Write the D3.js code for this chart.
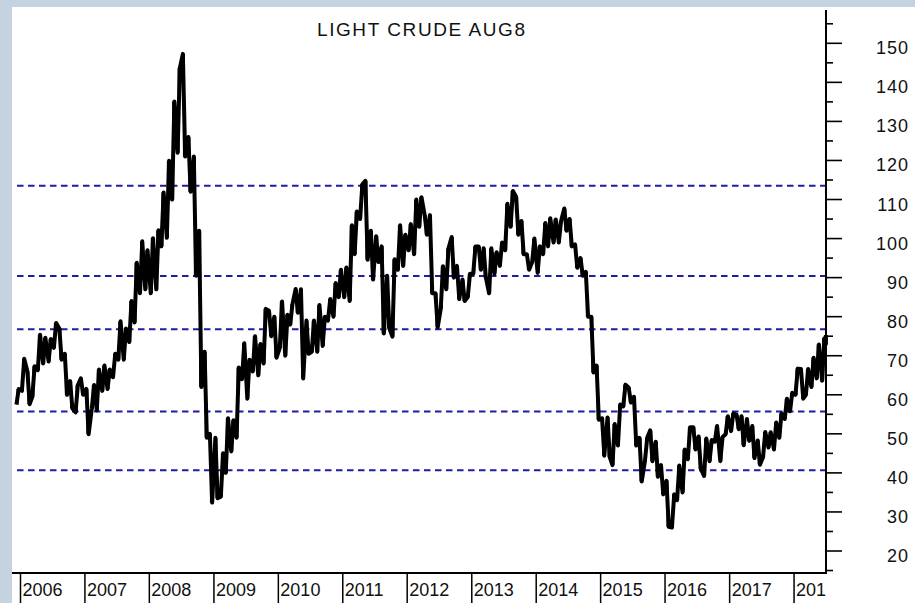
<!DOCTYPE html>
<html><head><meta charset="utf-8">
<script src="https://cdn.jsdelivr.net/npm/d3@7"></script>
<style>
html,body{margin:0;padding:0;background:#fff;overflow:hidden;}
svg{display:block;}
text{font-family:"Liberation Sans",Arial,sans-serif;fill:#111;}
</style></head><body>
<svg id="c" width="915" height="603"></svg>
<script>
// ---------------- DATA ----------------
const title = "LIGHT CRUDE AUG8";
const firstMonth = "2005-12";   // month of the first low/high pair
// monthly lows (USD/bbl), Dec 2005 .. Jul 2018
const lows = [
  57.5,
  61.0,57.6,59.5,66.3,68.0,68.5,72.0,69.0,60.0,56.5,55.5,60.0,        // 2006
  49.9,56.5,56.0,61.0,61.5,64.5,69.0,69.0,73.5,78.5,86.0,87.0,        // 2007
  86.0,87.0,98.0,100.2,110.0,122.0,121.0,112.0,90.5,62.0,49.0,32.4,   // 2008
  33.5,33.9,40.0,45.5,49.0,64.0,59.0,66.0,65.0,68.0,75.0,69.5,        // 2009
  72.0,70.0,78.0,81.0,64.2,70.5,71.0,71.0,72.5,79.0,80.0,85.0,        // 2010
  85.0,84.0,96.0,105.0,94.6,89.5,94.0,75.7,77.0,74.9,92.0,93.0,       // 2011
  97.0,96.0,103.0,101.0,86.0,77.3,82.0,87.0,90.0,84.5,84.0,85.0,      // 2012
  91.0,92.0,90.0,86.0,91.0,93.0,97.0,103.0,101.0,96.0,92.0,94.0,      // 2013
  91.2,96.0,98.0,99.0,99.0,102.0,98.0,92.5,90.5,80.0,65.7,53.6,       // 2014
  44.4,44.0,42.0,47.0,57.0,58.0,47.0,37.8,43.0,43.0,39.0,34.5,        // 2015
  26.2,26.0,33.0,35.0,43.5,46.0,41.0,39.2,43.0,48.0,43.0,49.9,        // 2016
  50.7,51.2,47.1,48.2,43.8,42.1,44.0,46.5,46.0,49.0,53.8,55.8,        // 2017
  60.0,59.0,60.0,62.0,64.2,63.6,73.0                                  // 2018
];
// monthly highs (USD/bbl), Dec 2005 .. Jul 2018
const highs = [
  61.5,
  69.2,66.0,67.3,75.4,74.6,74.3,78.4,77.0,70.5,63.5,62.5,64.2,        // 2006
  61.5,62.5,66.5,67.5,66.5,70.5,78.8,77.0,84.0,93.8,99.3,97.0,        // 2007
  100.1,102.1,111.8,119.9,135.1,143.7,147.3,126.0,121.0,102.0,71.0,50.0, // 2008
  49.0,45.0,54.0,53.5,67.0,73.2,69.0,75.0,73.0,82.0,81.5,80.0,        // 2009
  83.9,80.5,83.2,87.1,87.0,79.0,79.0,83.0,80.0,84.5,88.6,92.0,        // 2010
  92.6,103.4,106.9,113.9,114.8,102.0,100.6,98.0,90.5,94.7,103.4,101.0,// 2011
  103.7,110.0,110.6,106.0,106.0,86.0,92.9,97.5,100.4,93.0,89.5,91.0,  // 2012
  98.0,98.0,97.5,97.5,96.5,99.0,108.9,112.2,110.7,104.5,96.0,100.0,   // 2013
  98.0,104.0,105.2,104.9,104.5,107.7,105.0,98.5,95.0,91.5,80.0,67.5,  // 2014
  54.0,54.2,52.5,57.5,62.6,61.8,59.5,49.0,49.0,50.9,48.0,42.0,        // 2015
  38.0,34.5,41.9,46.0,51.7,51.7,49.3,48.8,48.4,52.0,49.2,54.5,        // 2016
  55.2,54.9,54.5,53.8,52.0,48.3,50.5,50.4,52.9,55.2,59.0,60.5,        // 2017
  66.7,66.6,66.6,69.5,72.9,74.5,75.3                                  // 2018
];
const yearLabels = [2006,2007,2008,2009,2010,2011,2012,2013,2014,2015,2016,2017,2018];
const majorTicks = [20,30,40,50,60,70,80,90,100,110,120,130,140,150];
const minorTicks = [15,25,35,45,55,65,75,85,95,105,115,125,135,145,155];
const levels = [113.5, 90.4, 76.8, 55.7, 40.7];   // dashed horizontal levels

// ---------------- LAYOUT ----------------
const W = 915, H = 603;
const frameL = 12, frameT = 7;
const axisX = 826, axisTop = 10, baseY = 573;
const svg = d3.select("#c");

svg.append("rect").attr("width", W).attr("height", H).attr("fill", "#c5d3e0");
svg.append("rect").attr("x", frameL).attr("y", frameT).attr("width", W - frameL).attr("height", H - frameT).attr("fill", "#fff");

const parseM = d3.utcParse("%Y-%m");
const x = d3.scaleUtc()
  .domain([new Date(Date.UTC(2006,0,1)), new Date(Date.UTC(2018,6,1))])
  .range([20.5, axisX]);
const y = d3.scaleLinear().domain([20, 150]).range([551, 43.3]);

const m0 = parseM(firstMonth);
const xEnd = x.domain()[1];
const clampD = d => (d >= xEnd ? d3.utcHour.offset(xEnd, -12) : d);
const idx = i => Math.max(0, Math.min(lows.length - 1, i));
const mid = i => (lows[idx(i)] + highs[idx(i)]) / 2;

// each month becomes two points (low & high) ordered by the local direction
const pts = [];
lows.forEach((lo, i) => {
  const ms = d3.utcMonth.offset(m0, i);
  const t1 = clampD(d3.utcDay.offset(ms, 8));
  const t2 = clampD(d3.utcDay.offset(ms, 21));
  const rising = mid(i + 1) >= mid(i - 1);
  if (rising) { pts.push({ date: t1, v: lo }, { date: t2, v: highs[i] }); }
  else        { pts.push({ date: t1, v: highs[i] }, { date: t2, v: lo }); }
});
const band = lows.map((lo, i) => ({
  date: clampD(d3.utcDay.offset(d3.utcMonth.offset(m0, i), 14)),
  low: lo, high: highs[i]
}));

// dashed levels
svg.append("g").selectAll("line").data(levels).join("line")
  .attr("x1", 17).attr("x2", axisX)
  .attr("y1", d => y(d)).attr("y2", d => y(d))
  .attr("stroke", "#1c1ca6").attr("stroke-width", 2)
  .attr("stroke-dasharray", "6.5,4.5");

// price trace (high/low per month)
const line = d3.line().x(d => x(d.date)).y(d => y(d.v)).curve(d3.curveLinear);
svg.append("path").datum(pts).attr("d", line)
  .attr("fill", "none").attr("stroke", "#000").attr("stroke-width", 4)
  .attr("stroke-linejoin", "round");
// monthly high-low range bars
svg.append("g").selectAll("line").data(band).join("line")
  .attr("x1", d => x(d.date)).attr("x2", d => x(d.date))
  .attr("y1", d => y(d.low)).attr("y2", d => y(d.high))
  .attr("stroke", "#000").attr("stroke-width", 2);

// right axis
svg.append("line").attr("x1", axisX).attr("x2", axisX).attr("y1", axisTop).attr("y2", baseY + 0.5)
  .attr("stroke", "#000").attr("stroke-width", 2);
const gy = svg.append("g");
gy.selectAll("line.maj").data(majorTicks).join("line").attr("class", "maj")
  .attr("x1", axisX).attr("x2", axisX + 16)
  .attr("y1", d => y(d)).attr("y2", d => y(d))
  .attr("stroke", "#000").attr("stroke-width", 1.6);
gy.selectAll("line.min").data(minorTicks).join("line").attr("class", "min")
  .attr("x1", axisX).attr("x2", axisX + 7)
  .attr("y1", d => y(d)).attr("y2", d => y(d))
  .attr("stroke", "#000").attr("stroke-width", 1.6);
gy.selectAll("text").data(majorTicks).join("text")
  .attr("x", 909).attr("y", d => y(d) + 11)
  .attr("text-anchor", "end")
  .style("font-size", "18px").style("letter-spacing", "1px")
  .text(d => d);

// bottom axis
svg.append("line").attr("x1", frameL).attr("x2", axisX + 1).attr("y1", baseY).attr("y2", baseY)
  .attr("stroke", "#000").attr("stroke-width", 2);
svg.append("clipPath").attr("id", "clipx").append("rect")
  .attr("x", 0).attr("y", baseY).attr("width", axisX).attr("height", H - baseY);
const gx = svg.append("g").attr("clip-path", "url(#clipx)");
const yearDate = yr => new Date(Date.UTC(yr, 0, 1));
gx.selectAll("line").data(yearLabels).join("line")
  .attr("x1", d => x(yearDate(d))).attr("x2", d => x(yearDate(d)))
  .attr("y1", baseY).attr("y2", H)
  .attr("stroke", "#000").attr("stroke-width", 1.5);
gx.selectAll("text").data(yearLabels).join("text")
  .attr("x", d => x(yearDate(d)) + 2).attr("y", 596)
  .style("font-size", "18px")
  .text(d => d);

// title
svg.append("text").attr("x", 421).attr("y", 36).attr("text-anchor", "middle")
  .attr("textLength", 208).attr("lengthAdjust", "spacing")
  .style("font-size", "19px")
  .text(title);
</script>
</body></html>
